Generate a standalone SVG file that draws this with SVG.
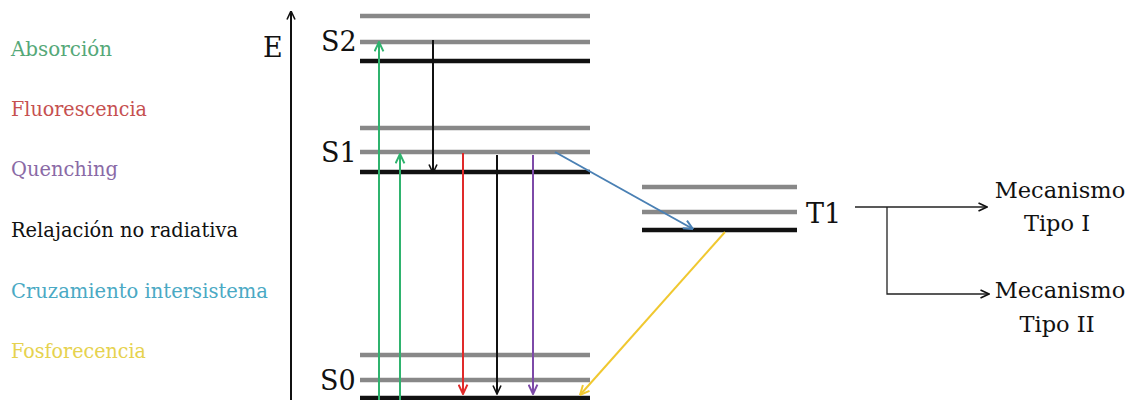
<svg xmlns="http://www.w3.org/2000/svg" width="1133" height="400" viewBox="0 0 1133 400">
<style>
.lg{font-family:"DejaVu Serif","Liberation Serif",serif;font-size:20.5px}
.lbl{font-family:"DejaVu Serif","Liberation Serif",serif;font-size:27px;fill:#111}
.mec{font-family:"DejaVu Serif","Liberation Serif",serif;font-size:22.5px;fill:#111;text-anchor:middle}
.gray{stroke:#888;stroke-width:4.5}
.blk{stroke:#111;stroke-width:4.5}
.ar{fill:none;stroke-width:2}
</style>
<defs>
<marker id="mk" viewBox="0 0 10 10" refX="9.5" refY="5" markerWidth="10" markerHeight="10" markerUnits="userSpaceOnUse" orient="auto"><path d="M1,1 L9.5,5 L1,9" fill="none" stroke="#111" stroke-width="1.6"/></marker>
<marker id="mg" viewBox="0 0 10 10" refX="9.5" refY="5" markerWidth="11" markerHeight="11" markerUnits="userSpaceOnUse" orient="auto"><path d="M1,1 L9.5,5 L1,9" fill="none" stroke="#2fb36e" stroke-width="1.8"/></marker>
<marker id="mr" viewBox="0 0 10 10" refX="9.5" refY="5" markerWidth="11" markerHeight="11" markerUnits="userSpaceOnUse" orient="auto"><path d="M1,1 L9.5,5 L1,9" fill="none" stroke="#e02a2a" stroke-width="1.8"/></marker>
<marker id="mp" viewBox="0 0 10 10" refX="9.5" refY="5" markerWidth="11" markerHeight="11" markerUnits="userSpaceOnUse" orient="auto"><path d="M1,1 L9.5,5 L1,9" fill="none" stroke="#7d4aa8" stroke-width="1.8"/></marker>
<marker id="mb" viewBox="0 0 10 10" refX="9.5" refY="5" markerWidth="11" markerHeight="11" markerUnits="userSpaceOnUse" orient="auto"><path d="M1,1 L9.5,5 L1,9" fill="none" stroke="#4a80b4" stroke-width="1.8"/></marker>
<marker id="my" viewBox="0 0 10 10" refX="9.5" refY="5" markerWidth="11" markerHeight="11" markerUnits="userSpaceOnUse" orient="auto"><path d="M1,1 L9.5,5 L1,9" fill="none" stroke="#f0c830" stroke-width="1.8"/></marker>
</defs>
<rect width="1133" height="400" fill="#fff"/>

<g id="legend">
<text class="lg" x="11" y="56" fill="#55a878" textLength="101" lengthAdjust="spacingAndGlyphs">Absorción</text>
<text class="lg" x="11" y="116" fill="#c65050" textLength="136" lengthAdjust="spacingAndGlyphs">Fluorescencia</text>
<text class="lg" x="11" y="176" fill="#8a6aa6" textLength="107" lengthAdjust="spacingAndGlyphs">Quenching</text>
<text class="lg" x="11" y="237" fill="#111" textLength="227" lengthAdjust="spacingAndGlyphs">Relajación no radiativa</text>
<text class="lg" x="11" y="298" fill="#4aa9c4" textLength="257" lengthAdjust="spacingAndGlyphs">Cruzamiento intersistema</text>
<text class="lg" x="11" y="358" fill="#e6d24e" textLength="135" lengthAdjust="spacingAndGlyphs">Fosforecencia</text>
</g>

<g id="axis">
<line x1="291" y1="400" x2="291" y2="11" stroke="#111" stroke-width="2" marker-end="url(#mk)"/>
<text class="lbl" x="263" y="57" font-size="26">E</text>
</g>

<g id="S2">
<line class="gray" x1="360" y1="16" x2="590" y2="16"/>
<line class="gray" x1="360" y1="42" x2="590" y2="42"/>
<line class="blk" x1="360" y1="61" x2="590" y2="61"/>
<text class="lbl" x="321" y="51">S2</text>
</g>
<g id="S1">
<line class="gray" x1="360" y1="128" x2="590" y2="128"/>
<line class="gray" x1="360" y1="152" x2="590" y2="152"/>
<line class="blk" x1="360" y1="172" x2="590" y2="172"/>
<text class="lbl" x="321" y="162">S1</text>
</g>
<g id="S0">
<line class="gray" x1="360" y1="355" x2="590" y2="355"/>
<line class="gray" x1="360" y1="380" x2="590" y2="380"/>
<line class="blk" x1="360" y1="398" x2="590" y2="398"/>
<text class="lbl" x="320" y="390">S0</text>
</g>
<g id="T1">
<line class="gray" x1="642" y1="187" x2="797" y2="187"/>
<line class="gray" x1="642" y1="212" x2="797" y2="212"/>
<line class="blk" x1="642" y1="230" x2="797" y2="230"/>
<text class="lbl" x="806" y="223">T1</text>
</g>
<g id="mec1">
<text class="mec" x="1060" y="198">Mecanismo</text>
<text class="mec" x="1057" y="231">Tipo I</text>
</g>
<g id="mec2">
<text class="mec" x="1060" y="298">Mecanismo</text>
<text class="mec" x="1057" y="332">Tipo II</text>
</g>

<g id="connectors">
<line class="ar" x1="379" y1="400" x2="379" y2="42" stroke="#2fb36e" marker-end="url(#mg)"/>
<line class="ar" x1="400" y1="400" x2="400" y2="154" stroke="#2fb36e" marker-end="url(#mg)"/>
<line class="ar" x1="433" y1="40" x2="433" y2="173" stroke="#111" stroke-width="1.6" marker-end="url(#mk)"/>
<line class="ar" x1="463" y1="153" x2="463" y2="394" stroke="#e02a2a" marker-end="url(#mr)"/>
<line class="ar" x1="497" y1="155" x2="497" y2="394" stroke="#111" marker-end="url(#mk)"/>
<line class="ar" x1="533" y1="155" x2="533" y2="394" stroke="#7d4aa8" marker-end="url(#mp)"/>
<line class="ar" x1="555" y1="152" x2="693" y2="229" stroke="#4a80b4" marker-end="url(#mb)"/>
<line class="ar" x1="725" y1="232" x2="580" y2="395" stroke="#f0c830" marker-end="url(#my)"/>
<path d="M855,207 H987" fill="none" stroke="#222" stroke-width="1.3" marker-end="url(#mk)"/>
<path d="M887,207 V294 H989" fill="none" stroke="#222" stroke-width="1.3" marker-end="url(#mk)"/>
</g>
</svg>
